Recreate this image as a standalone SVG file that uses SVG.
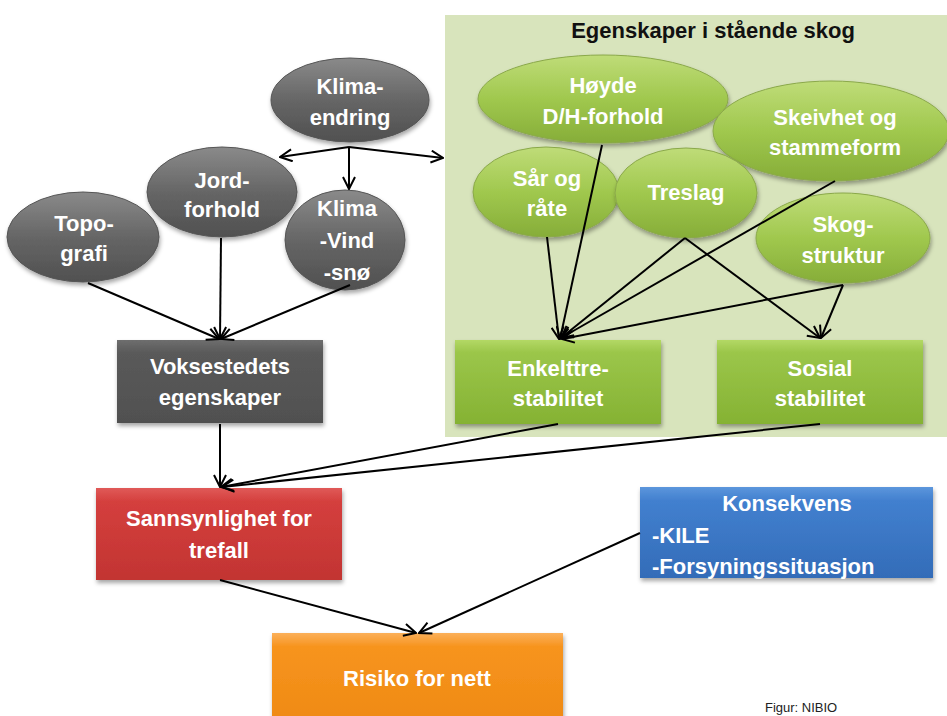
<svg xmlns="http://www.w3.org/2000/svg" width="947" height="716" viewBox="0 0 947 716">
<style>
.t{font-family:"Liberation Sans",Arial,sans-serif;font-weight:bold;font-size:22px;fill:#fff;text-anchor:middle;dominant-baseline:central}
.ttl{font-family:"Liberation Sans",Arial,sans-serif;font-weight:bold;font-size:22px;fill:#111;text-anchor:middle;dominant-baseline:central}
.l{stroke:#000;stroke-width:2;fill:none;marker-end:url(#ah)}
.ge{fill:url(#gGray);stroke:#555;stroke-width:1}
.gr{fill:url(#gGreen);stroke:#8aa84a;stroke-width:1}
</style>
<defs>
<marker id="ah" viewBox="0 0 14 14" refX="13" refY="7" markerWidth="14" markerHeight="14" markerUnits="userSpaceOnUse" orient="auto">
<polyline points="1,1 13,7 1,13" fill="none" stroke="#000" stroke-width="2"/>
</marker>
<linearGradient id="gGray" x1="0" y1="0" x2="0" y2="1"><stop offset="0" stop-color="#8a8a8a"/><stop offset="0.5" stop-color="#666"/><stop offset="1" stop-color="#505050"/></linearGradient>
<linearGradient id="gGreen" x1="0" y1="0" x2="0" y2="1"><stop offset="0" stop-color="#bfdc78"/><stop offset="0.5" stop-color="#a0c84e"/><stop offset="1" stop-color="#86ad38"/></linearGradient>
<linearGradient id="gBox" x1="0" y1="0" x2="0" y2="1"><stop offset="0" stop-color="#6e6e6e"/><stop offset="0.15" stop-color="#5a5a5a"/><stop offset="1" stop-color="#505050"/></linearGradient>
<linearGradient id="gGBox" x1="0" y1="0" x2="0" y2="1"><stop offset="0" stop-color="#b3d865"/><stop offset="0.15" stop-color="#9bc64a"/><stop offset="1" stop-color="#85b233"/></linearGradient>
<linearGradient id="gRed" x1="0" y1="0" x2="0" y2="1"><stop offset="0" stop-color="#e05a58"/><stop offset="0.15" stop-color="#d43f3d"/><stop offset="1" stop-color="#c23432"/></linearGradient>
<linearGradient id="gBlue" x1="0" y1="0" x2="0" y2="1"><stop offset="0" stop-color="#5c96dc"/><stop offset="0.15" stop-color="#4280cf"/><stop offset="1" stop-color="#336cb8"/></linearGradient>
<linearGradient id="gOr" x1="0" y1="0" x2="0" y2="1"><stop offset="0" stop-color="#fbb05a"/><stop offset="0.15" stop-color="#f7941e"/><stop offset="1" stop-color="#ef8a14"/></linearGradient>
<filter id="sh" x="-10%" y="-10%" width="125%" height="130%"><feDropShadow dx="1" dy="3" stdDeviation="2" flood-color="#000" flood-opacity="0.35"/></filter>
</defs>
<rect x="0" y="0" width="947" height="716" fill="#fff"/>
<g id="panel">
<rect x="445" y="15" width="502" height="422" fill="#d8e4bc"/>
<text class="ttl" x="713" y="30">Egenskaper i stående skog</text>
</g>
<g id="klimaendring"><ellipse class="ge" filter="url(#sh)" cx="350" cy="100" rx="79" ry="42"/><text class="t" x="350" y="86">Klima-</text><text class="t" x="350" y="117">endring</text></g>
<g id="jordforhold"><ellipse class="ge" filter="url(#sh)" cx="222" cy="192" rx="75" ry="45"/><text class="t" x="222" y="180">Jord-</text><text class="t" x="222" y="209">forhold</text></g>
<g id="topografi"><ellipse class="ge" filter="url(#sh)" cx="83" cy="237" rx="76" ry="45"/><text class="t" x="84" y="223">Topo-</text><text class="t" x="84" y="253">grafi</text></g>
<g id="klimavind"><ellipse class="ge" filter="url(#sh)" cx="345" cy="240" rx="60" ry="50"/><text class="t" x="347" y="208">Klima</text><text class="t" x="347" y="240">-Vind</text><text class="t" x="347" y="272">-snø</text></g>
<g id="hoyde"><ellipse class="gr" filter="url(#sh)" cx="603" cy="99" rx="125" ry="44"/><text class="t" x="603" y="85">Høyde</text><text class="t" x="603" y="116">D/H-forhold</text></g>
<g id="skeivhet"><ellipse class="gr" filter="url(#sh)" cx="831" cy="131" rx="118" ry="50"/><text class="t" x="835" y="117">Skeivhet og</text><text class="t" x="835" y="147">stammeform</text></g>
<g id="sar"><ellipse class="gr" filter="url(#sh)" cx="546" cy="192" rx="73" ry="45"/><text class="t" x="547" y="178">Sår og</text><text class="t" x="547" y="208">råte</text></g>
<g id="treslag"><ellipse class="gr" filter="url(#sh)" cx="686" cy="193" rx="71" ry="45"/><text class="t" x="686" y="192">Treslag</text></g>
<g id="skogstruktur"><ellipse class="gr" filter="url(#sh)" cx="843" cy="238" rx="87" ry="45"/><text class="t" x="843" y="224">Skog-</text><text class="t" x="843" y="255">struktur</text></g>
<g id="voksested"><rect x="117" y="340" width="206" height="83" fill="url(#gBox)" filter="url(#sh)"/><text class="t" x="220" y="366">Voksestedets</text><text class="t" x="220" y="397">egenskaper</text></g>
<g id="enkelttre"><rect x="455" y="340" width="206" height="84" fill="url(#gGBox)" filter="url(#sh)"/><text class="t" x="558" y="368">Enkelttre-</text><text class="t" x="558" y="398">stabilitet</text></g>
<g id="sosial"><rect x="717" y="340" width="206" height="84" fill="url(#gGBox)" filter="url(#sh)"/><text class="t" x="820" y="368">Sosial</text><text class="t" x="820" y="398">stabilitet</text></g>
<g id="sannsynlighet"><rect x="96" y="488" width="246" height="92" fill="url(#gRed)" filter="url(#sh)"/><text class="t" x="219" y="518">Sannsynlighet for</text><text class="t" x="219" y="550">trefall</text></g>
<g id="konsekvens"><rect x="640" y="487" width="293" height="91" fill="url(#gBlue)" filter="url(#sh)"/><text class="t" x="787" y="503">Konsekvens</text><text class="t" x="652" y="535" style="text-anchor:start">-KILE</text><text class="t" x="652" y="566" style="text-anchor:start">-Forsyningssituasjon</text></g>
<g id="risiko"><rect x="272" y="633" width="291" height="90" fill="url(#gOr)" filter="url(#sh)"/><text class="t" x="417" y="678">Risiko for nett</text></g>
<g id="connectors">
<line class="l" x1="349" y1="147" x2="280" y2="157"/>
<line class="l" x1="349" y1="147" x2="349" y2="189"/>
<line class="l" x1="349" y1="147" x2="443" y2="158"/>
<line class="l" x1="88" y1="283" x2="219" y2="339"/>
<line class="l" x1="221" y1="238" x2="220" y2="339"/>
<line class="l" x1="350" y1="285" x2="221" y2="339"/>
<line class="l" x1="220" y1="424" x2="220" y2="487"/>
<line class="l" x1="558" y1="424" x2="221" y2="487"/>
<line class="l" x1="820" y1="424" x2="222" y2="487"/>
<line class="l" x1="602" y1="145" x2="560" y2="339"/>
<line class="l" x1="547" y1="237" x2="559" y2="339"/>
<line class="l" x1="685" y1="238" x2="561" y2="338"/>
<line class="l" x1="685" y1="238" x2="820" y2="338"/>
<line class="l" x1="835" y1="181" x2="561" y2="338"/>
<line class="l" x1="843" y1="285" x2="562" y2="339"/>
<line class="l" x1="843" y1="285" x2="821" y2="338"/>
<line class="l" x1="220" y1="580" x2="416" y2="633"/>
<line class="l" x1="640" y1="533" x2="419" y2="633"/>
</g>
<text x="765" y="712" style="font-family:'Liberation Sans',Arial,sans-serif;font-size:13px;fill:#222">Figur: NIBIO</text>
</svg>
